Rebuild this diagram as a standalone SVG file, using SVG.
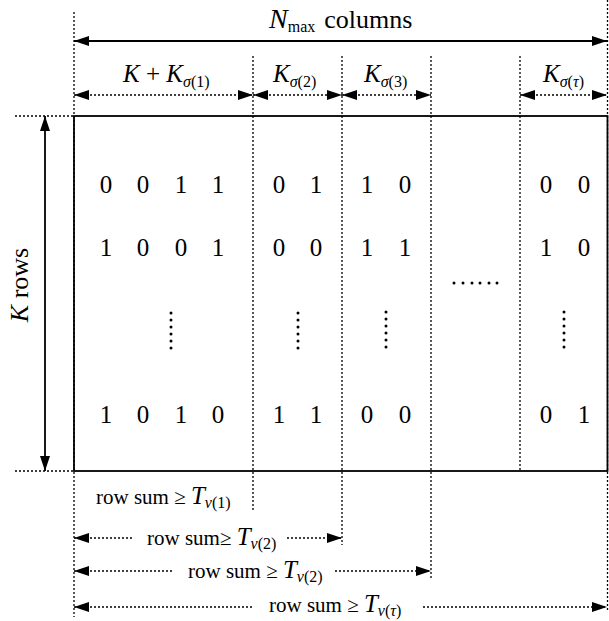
<svg xmlns="http://www.w3.org/2000/svg" width="609" height="621" viewBox="0 0 609 621" font-family="'Liberation Serif', 'DejaVu Serif', 'Times New Roman', serif">
<style>
text{font-family:'Liberation Serif','DejaVu Serif','Times New Roman',serif;fill:#000}
.d{font-size:25px;text-anchor:middle}
.lab{font-size:25px}
.top{font-size:26px}
.rs{font-size:21px}
.it{font-style:italic}
.sub{font-size:16px}
.T{font-size:25px;font-style:italic}
.dot{stroke:#000;stroke-width:1.3;stroke-dasharray:2,2;fill:none}
.sol{stroke:#000;stroke-width:1.8;fill:none}
.dt{fill:#000}
</style>
<defs>
<marker id="ah" viewBox="0 0 15 10" refX="15" refY="5" markerWidth="15" markerHeight="10" markerUnits="userSpaceOnUse" orient="auto-start-reverse">
<path d="M0,0 L15,5 L0,10 Z" fill="#000"/>
</marker>
</defs>
<rect width="609" height="621" fill="#fff"/>

<g id="grid">
<rect x="74" y="116" width="533.5" height="355" class="sol" stroke-width="1.5"/>
<line x1="74" y1="12" x2="74" y2="617" class="dot"/>
<line x1="253" y1="56" x2="253" y2="512" class="dot"/>
<line x1="342" y1="56" x2="342" y2="545" class="dot"/>
<line x1="431" y1="56" x2="431" y2="578" class="dot"/>
<line x1="520" y1="56" x2="520" y2="471" class="dot"/>
<line x1="607.5" y1="0" x2="607.5" y2="612" class="dot"/>
<line x1="15" y1="116" x2="74" y2="116" class="dot"/>
<line x1="15" y1="471" x2="74" y2="471" class="dot"/>
</g>

<g id="connectors">
<line x1="74" y1="41" x2="607" y2="41" class="sol" marker-start="url(#ah)" marker-end="url(#ah)"/>
<line x1="74" y1="95" x2="253" y2="95" class="dot" marker-start="url(#ah)" marker-end="url(#ah)"/>
<line x1="253" y1="95" x2="342" y2="95" class="dot" marker-start="url(#ah)" marker-end="url(#ah)"/>
<line x1="342" y1="95" x2="431" y2="95" class="dot" marker-start="url(#ah)" marker-end="url(#ah)"/>
<line x1="520" y1="95" x2="607" y2="95" class="dot" marker-start="url(#ah)" marker-end="url(#ah)"/>
<line x1="45" y1="116" x2="45" y2="471" class="sol" marker-start="url(#ah)" marker-end="url(#ah)"/>
<line x1="74" y1="538" x2="133" y2="538" class="dot" marker-start="url(#ah)"/>
<line x1="287" y1="538" x2="342" y2="538" class="dot" marker-end="url(#ah)"/>
<line x1="74" y1="571" x2="173" y2="571" class="dot" marker-start="url(#ah)"/>
<line x1="335" y1="571" x2="431" y2="571" class="dot" marker-end="url(#ah)"/>
<line x1="74" y1="607" x2="254" y2="607" class="dot" marker-start="url(#ah)"/>
<line x1="423" y1="607" x2="607" y2="607" class="dot" marker-end="url(#ah)"/>
</g>

<g id="top-labels">
<text class="top" x="269" y="28"><tspan class="it" font-size="28">N</tspan><tspan class="sub" dy="4">max</tspan><tspan dy="-4" dx="9">columns</tspan></text>
<text class="lab" x="123" y="82"><tspan class="it">K</tspan> + <tspan class="it">K</tspan><tspan class="sub" dy="5"><tspan class="it">σ</tspan>(1)</tspan></text>
<text class="lab" x="273" y="82"><tspan class="it">K</tspan><tspan class="sub" dy="5"><tspan class="it">σ</tspan>(2)</tspan></text>
<text class="lab" x="364" y="82"><tspan class="it">K</tspan><tspan class="sub" dy="5"><tspan class="it">σ</tspan>(3)</tspan></text>
<text class="lab" x="543" y="82"><tspan class="it">K</tspan><tspan class="sub" dy="5"><tspan class="it">σ</tspan>(<tspan class="it">τ</tspan>)</tspan></text>
<text x="0" y="0" font-size="26" text-anchor="middle" transform="translate(28,285) rotate(-90)"><tspan class="it">K</tspan>  rows</text>
</g>

<g id="matrix">
<text class="d" x="106" y="193">0</text><text class="d" x="143" y="193">0</text><text class="d" x="181" y="193">1</text><text class="d" x="218" y="193">1</text>
<text class="d" x="279" y="193">0</text><text class="d" x="316" y="193">1</text>
<text class="d" x="367" y="193">1</text><text class="d" x="405" y="193">0</text>
<text class="d" x="546" y="193">0</text><text class="d" x="584" y="193">0</text>

<text class="d" x="106" y="256">1</text><text class="d" x="143" y="256">0</text><text class="d" x="181" y="256">0</text><text class="d" x="218" y="256">1</text>
<text class="d" x="279" y="256">0</text><text class="d" x="316" y="256">0</text>
<text class="d" x="367" y="256">1</text><text class="d" x="405" y="256">1</text>
<text class="d" x="546" y="256">1</text><text class="d" x="584" y="256">0</text>

<text class="d" x="106" y="423">1</text><text class="d" x="143" y="423">0</text><text class="d" x="181" y="423">1</text><text class="d" x="218" y="423">0</text>
<text class="d" x="279" y="423">1</text><text class="d" x="316" y="423">1</text>
<text class="d" x="367" y="423">0</text><text class="d" x="405" y="423">0</text>
<text class="d" x="546" y="423">0</text><text class="d" x="584" y="423">1</text>

<g class="dt">
<circle cx="171" cy="313" r="1.5"/><circle cx="171" cy="320" r="1.5"/><circle cx="171" cy="327" r="1.5"/><circle cx="171" cy="334" r="1.5"/><circle cx="171" cy="341" r="1.5"/><circle cx="171" cy="348" r="1.5"/>
<circle cx="298" cy="313" r="1.5"/><circle cx="298" cy="320" r="1.5"/><circle cx="298" cy="327" r="1.5"/><circle cx="298" cy="334" r="1.5"/><circle cx="298" cy="341" r="1.5"/><circle cx="298" cy="348" r="1.5"/>
<circle cx="386" cy="312" r="1.5"/><circle cx="386" cy="319" r="1.5"/><circle cx="386" cy="326" r="1.5"/><circle cx="386" cy="333" r="1.5"/><circle cx="386" cy="340" r="1.5"/><circle cx="386" cy="347" r="1.5"/>
<circle cx="564" cy="312" r="1.5"/><circle cx="564" cy="319" r="1.5"/><circle cx="564" cy="326" r="1.5"/><circle cx="564" cy="333" r="1.5"/><circle cx="564" cy="340" r="1.5"/><circle cx="564" cy="347" r="1.5"/>
<circle cx="454" cy="283" r="1.5"/><circle cx="463" cy="283" r="1.5"/><circle cx="472" cy="283" r="1.5"/><circle cx="480" cy="283" r="1.5"/><circle cx="489" cy="283" r="1.5"/><circle cx="497" cy="283" r="1.5"/>
</g>
</g>

<g id="bottom-labels">
<text class="rs" x="96" y="504">row sum  ≥ <tspan class="T">T</tspan><tspan class="sub" dy="4"><tspan class="it">v</tspan>(1)</tspan></text>
<text class="rs" x="147" y="545">row sum≥ <tspan class="T">T</tspan><tspan class="sub" dy="4"><tspan class="it">v</tspan>(2)</tspan></text>
<text class="rs" x="188" y="578">row sum  ≥ <tspan class="T">T</tspan><tspan class="sub" dy="4"><tspan class="it">v</tspan>(2)</tspan></text>
<text class="rs" x="269" y="612">row sum  ≥ <tspan class="T">T</tspan><tspan class="sub" dy="4"><tspan class="it">v</tspan>(<tspan class="it">τ</tspan>)</tspan></text>
</g>
</svg>
